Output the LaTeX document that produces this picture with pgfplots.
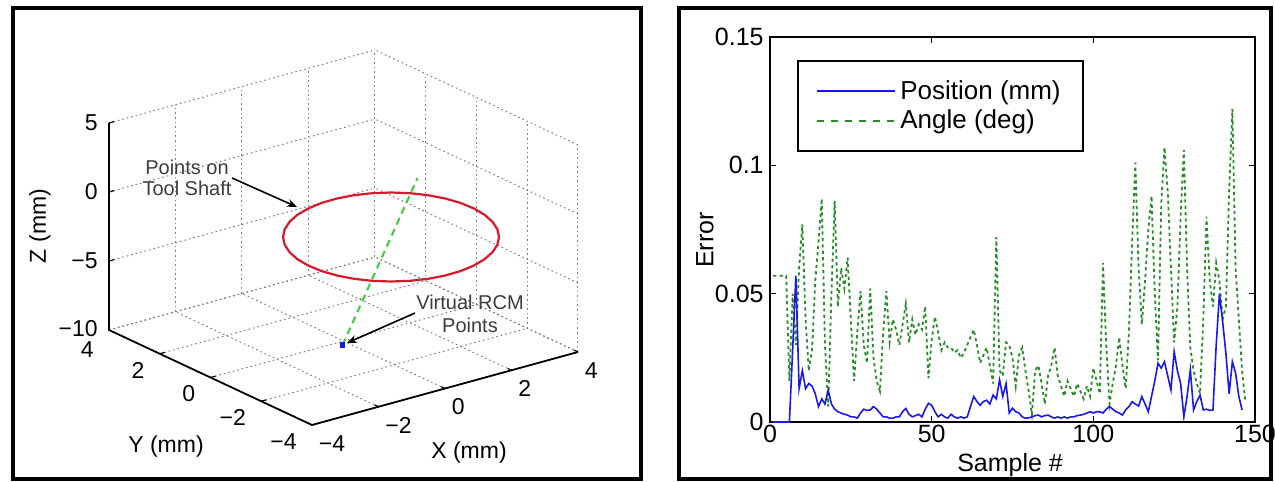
\documentclass[border=0pt]{standalone}
\usepackage{fontspec}
\setmainfont{Liberation Sans}
\usepackage{pgfplots}
\pgfplotsset{compat=1.18}
\usetikzlibrary{arrows.meta}

\definecolor{cred}{RGB}{215,25,45}
\definecolor{cshaft}{RGB}{60,205,60}
\definecolor{cpos}{RGB}{25,25,235}
\definecolor{cang}{RGB}{40,140,40}
\definecolor{cgrid}{RGB}{125,125,125}
\definecolor{cnote}{RGB}{60,60,60}

\begin{document}
\begin{tikzpicture}
% ---- left panel: 3D view (1px = 0.5pt)
\begin{axis}[
  at={(171.75pt,-101.5pt)}, anchor=origin,
  x={(16.625pt,4.5625pt)}, y={(-12.6875pt,5.9375pt)}, z={(0pt,6.9pt)},
  xmin=-4, xmax=4, ymin=-4, ymax=4, zmin=-10, zmax=5,
  xtick={-4,-2,...,4}, ytick={-4,-2,...,4}, ztick={-10,-5,0,5},
  xticklabels={}, yticklabels={}, zticklabels={},
  tick label style={opacity=0},
  grid=major,
  grid style={cgrid, line width=0.5pt, dash pattern=on 0.8pt off 1.5pt},
  axis line style={draw=none}, major tick style={draw=none},
  clip=false,
  font=\fontsize{11.5}{13}\selectfont,
]
  \addplot3[cred, line width=1.1pt, no markers] coordinates {
    (3.477,-1.573,-3.41) (3.759,-1.139,-3.41) (3.971,-0.670,-3.41)
    (4.105,-0.181,-3.41) (4.157,0.313,-3.41) (4.127,0.798,-3.41)
    (4.015,1.259,-3.41) (3.824,1.682,-3.41) (3.561,2.053,-3.41)
    (3.233,2.362,-3.41) (2.851,2.599,-3.41) (2.424,2.758,-3.41)
    (1.967,2.833,-3.41) (1.495,2.820,-3.41) (1.021,2.723,-3.41)
    (0.559,2.543,-3.41) (0.123,2.286,-3.41) (-0.273,1.959,-3.41)
    (-0.617,1.573,-3.41) (-0.899,1.139,-3.41) (-1.111,0.670,-3.41)
    (-1.245,0.181,-3.41) (-1.297,-0.313,-3.41) (-1.267,-0.798,-3.41)
    (-1.155,-1.259,-3.41) (-0.964,-1.682,-3.41) (-0.701,-2.053,-3.41)
    (-0.373,-2.362,-3.41) (0.009,-2.599,-3.41) (0.436,-2.758,-3.41)
    (0.893,-2.833,-3.41) (1.365,-2.820,-3.41) (1.839,-2.723,-3.41)
    (2.301,-2.543,-3.41) (2.737,-2.286,-3.41) (3.133,-1.959,-3.41)
    (3.477,-1.573,-3.41)
  };
  \addplot3[cshaft, line width=1pt, dash pattern=on 3.5pt off 2.5pt, no markers]
    coordinates {(-0.18,-0.2,-10) (2.31,0.11,0.19)};
  \addplot3[cpos, only marks, mark=square*, mark size=1.1pt]
    coordinates {(-0.18,-0.2,-10)};
  % axis lines and ticks
  \draw[line width=0.9pt] (-4,4,5) -- (-4,4,-10) -- (-4,-4,-10) -- (4,-4,-10);
  \draw[line width=0.6pt] (-4,4,5) -- (-3.85,4,5);
  \draw[line width=0.6pt] (-4,4,0) -- (-3.85,4,0);
  \draw[line width=0.6pt] (-4,4,-5) -- (-3.85,4,-5);
  \draw[line width=0.6pt] (-4,2,-10) -- (-3.85,2,-10);
  \draw[line width=0.6pt] (-4,0,-10) -- (-3.85,0,-10);
  \draw[line width=0.6pt] (-4,-2,-10) -- (-3.85,-2,-10);
  \draw[line width=0.6pt] (-2,-4,-10) -- (-2,-3.85,-10);
  \draw[line width=0.6pt] (0,-4,-10) -- (0,-3.85,-10);
  \draw[line width=0.6pt] (2,-4,-10) -- (2,-3.85,-10);
  \draw[line width=0.6pt] (4,-4,-10) -- (4,-3.85,-10);
  % tick labels
  \node[anchor=east, inner sep=0pt, xshift=-5.5pt] at (-4,4,5) {5};
  \node[anchor=east, inner sep=0pt, xshift=-5.5pt] at (-4,4,0) {0};
  \node[anchor=east, inner sep=0pt, xshift=-5.5pt] at (-4,4,-5) {−5};
  \node[anchor=east, inner sep=0pt, xshift=-5.5pt, yshift=0.5pt] at (-4,4,-10) {−10};
  \node[anchor=north east, inner sep=0pt, xshift=-7.5pt, yshift=-5.5pt] at (-4,4,-10) {4};
  \node[anchor=north east, inner sep=0pt, xshift=-7.5pt, yshift=-4pt] at (-4,2,-10) {2};
  \node[anchor=north east, inner sep=0pt, xshift=-7.5pt, yshift=-4pt] at (-4,0,-10) {0};
  \node[anchor=north east, inner sep=0pt, xshift=-7.5pt, yshift=-4pt] at (-4,-2,-10) {−2};
  \node[anchor=north east, inner sep=0pt, xshift=-7.5pt, yshift=-4pt] at (-4,-4,-10) {−4};
  \node[anchor=north west, inner sep=0pt, xshift=3.25pt, yshift=-5pt] at (-4,-4,-10) {−4};
  \node[anchor=north west, inner sep=0pt, xshift=3.25pt, yshift=-5pt] at (-2,-4,-10) {−2};
  \node[anchor=north west, inner sep=0pt, xshift=3.25pt, yshift=-5pt] at (0,-4,-10) {0};
  \node[anchor=north west, inner sep=0pt, xshift=3.25pt, yshift=-5pt] at (2,-4,-10) {2};
  \node[anchor=north west, inner sep=0pt, xshift=3.25pt, yshift=-5pt] at (4,-4,-10) {4};
\end{axis}
\node[rotate=90, font=\fontsize{11.5}{13}\selectfont] at (20pt,-113pt) {Z (mm)};
\node[font=\fontsize{11.5}{13}\selectfont] at (83pt,-223.5pt) {Y (mm)};
\node[font=\fontsize{11.5}{13}\selectfont] at (234.5pt,-226.5pt) {X (mm)};
\node[align=center, text=cnote, font=\fontsize{10}{10.5}\selectfont] at (93.5pt,-88.75pt) {Points on\\Tool Shaft};
\draw[line width=0.8pt, -{Stealth[length=5pt, width=4pt]}] (116pt,-89pt) -- (148.5pt,-103.5pt);
\node[align=center, text=cnote, font=\fontsize{10}{11.5}\selectfont] at (235pt,-156.75pt) {Virtual RCM\\Points};
\draw[line width=0.8pt, -{Stealth[length=5pt, width=4pt]}] (207.5pt,-156.5pt) -- (173.5pt,-171.5pt);

% ---- right panel: error per sample
\begin{axis}[
  at={(385pt,-211pt)}, anchor=origin,
  scale only axis, width=242.5pt, height=192.5pt,
  xmin=0, xmax=150, ymin=0, ymax=0.15,
  xtick={0,50,100,150}, xticklabels={0,50,100,150},
  ytick={0,0.05,0.1,0.15}, yticklabels={0,0.05,0.1,0.15},
  scaled ticks=false,
  tick align=inside, major tick length=3pt,
  axis line style={line width=1.1pt}, tick style={line width=0.7pt, black},
  font=\fontsize{12.5}{15}\selectfont,
  every tick label/.append style={inner sep=1.5pt},
  yticklabel style={xshift=-1.5pt},
  xlabel={Sample \#}, ylabel={Error},
  xlabel style={at={(axis description cs:0.495,-0.112)}, anchor=center},
  ylabel style={at={(axis description cs:-0.134,0.473)}, anchor=center},
  legend style={at={(0.0557,0.940)}, anchor=north west, draw=black,
    line width=1.1pt, inner xsep=9pt, inner ysep=7.5pt, row sep=0pt,
    nodes={inner sep=2pt}, cells={anchor=west},
    font=\fontsize{13}{15}\selectfont,
    /tikz/every even column/.append style={column sep=10.5pt}},
  legend image code/.code={\draw[#1] (0pt,0pt) -- (39pt,0pt);},
]
  \addlegendimage{cpos, line width=1.1pt}
  \addlegendentry{Position (mm)}
  \addlegendimage{cang, line width=1.1pt, dash pattern=on 3.5pt off 3.5pt}
  \addlegendentry{Angle (deg)}
  \addplot[cang, line width=0.9pt, dash pattern=on 1.6pt off 1.6pt, forget plot] coordinates {
    (1,0.057)(2,0.057)(3,0.057)(4,0.057)(5,0.057)(6,0.016)(7,0.05)(8,0.03)
    (9,0.06)(10,0.077)(11,0.04)(12,0.02)(13,0.028)(14,0.055)(15,0.07)(16,0.087)
    (17,0.03)(18,0.006)(19,0.05)(20,0.086)(21,0.045)(22,0.06)(23,0.052)(24,0.064)
    (25,0.04)(26,0.016)(27,0.035)(28,0.051)(29,0.03)(30,0.023)(31,0.052)(32,0.025)
    (33,0.016)(34,0.012)(35,0.035)(36,0.051)(37,0.031)(38,0.04)(39,0.036)(40,0.03)
    (41,0.038)(42,0.046)(43,0.031)(44,0.04)(45,0.034)(46,0.038)(47,0.036)(48,0.045)
    (49,0.017)(50,0.032)(51,0.041)(52,0.035)(53,0.028)(54,0.031)(55,0.029)(56,0.029)
    (57,0.027)(58,0.028)(59,0.025)(60,0.027)(61,0.03)(62,0.033)(63,0.036)(64,0.03)
    (65,0.023)(66,0.026)(67,0.029)(68,0.022)(69,0.015)(70,0.072)(71,0.02)(72,0.018)
    (73,0.031)(74,0.03)(75,0.025)(76,0.014)(77,0.026)(78,0.029)(79,0.02)(80,0.012)
    (81,0.003)(82,0.02)(83,0.022)(84,0.015)(85,0.007)(86,0.018)(87,0.022)(88,0.029)
    (89,0.018)(90,0.014)(91,0.01)(92,0.016)(93,0.013)(94,0.01)(95,0.015)(96,0.012)
    (97,0.009)(98,0.014)(99,0.01)(100,0.021)(101,0.016)(102,0.011)(103,0.062)(104,0.03)
    (105,0.007)(106,0.015)(107,0.022)(108,0.033)(109,0.022)(110,0.013)(111,0.035)(112,0.07)
    (113,0.101)(114,0.06)(115,0.038)(116,0.055)(117,0.075)(118,0.088)(119,0.05)(120,0.024)
    (121,0.085)(122,0.107)(123,0.09)(124,0.06)(125,0.031)(126,0.045)(127,0.08)(128,0.106)
    (129,0.06)(130,0.029)(131,0.02)(132,0.015)(133,0.011)(134,0.04)(135,0.08)(136,0.055)
    (137,0.045)(138,0.062)(139,0.055)(140,0.04)(141,0.045)(142,0.09)(143,0.122)(144,0.06)
    (145,0.04)(146,0.02)(147,0.008)
  };
  \addplot[cpos, line width=0.8pt, forget plot] coordinates {
    (1,0)(2,0)(3,0)(4,0)(5,0)(6,0)(7,0.028)(8,0.057)(9,0.013)(10,0.02)
    (11,0.013)(12,0.015)(13,0.014)(14,0.011)(15,0.006)(16,0.009)(17,0.007)(18,0.0125)
    (19,0.007)(20,0.005)(21,0.004)(22,0.0035)(23,0.003)(24,0.0027)(25,0.002)(26,0.002)
    (27,0.0015)(28,0.0035)(29,0.005)(30,0.0045)(31,0.0047)(32,0.006)(33,0.005)(34,0.0035)
    (35,0.002)(36,0.002)(37,0.0015)(38,0.0015)(39,0.002)(40,0.002)(41,0.004)(42,0.0053)
    (43,0.003)(44,0.002)(45,0.0025)(46,0.003)(47,0.002)(48,0.005)(49,0.0073)(50,0.0065)
    (51,0.004)(52,0.002)(53,0.003)(54,0.002)(55,0.0015)(56,0.003)(57,0.002)(58,0.0015)
    (59,0.002)(60,0.0015)(61,0.002)(62,0.006)(63,0.0099)(64,0.008)(65,0.0065)(66,0.008)
    (67,0.0085)(68,0.007)(69,0.0105)(70,0.009)(71,0.0164)(72,0.01)(73,0.015)(74,0.0035)
    (75,0.0054)(76,0.004)(77,0.0035)(78,0.002)(79,0.0015)(80,0.0016)(81,0.002)(82,0.0025)
    (83,0.0027)(84,0.002)(85,0.0025)(86,0.0027)(87,0.002)(88,0.0015)(89,0.002)(90,0.0015)
    (91,0.002)(92,0.0015)(93,0.002)(94,0.002)(95,0.0025)(96,0.0027)(97,0.003)(98,0.0035)
    (99,0.004)(100,0.0035)(101,0.004)(102,0.004)(103,0.0035)(104,0.005)(105,0.006)(106,0.005)
    (107,0.004)(108,0.0035)(109,0.0027)(110,0.0047)(111,0.006)(112,0.0079)(113,0.007)(114,0.0062)
    (115,0.0099)(116,0.007)(117,0.004)(118,0.01)(119,0.016)(120,0.0229)(121,0.021)(122,0.0235)
    (123,0.018)(124,0.0125)(125,0.0274)(126,0.02)(127,0.015)(128,0.002)(129,0.01)(130,0.0203)
    (131,0.0047)(132,0.008)(133,0.0105)(134,0.0047)(135,0.005)(136,0.0045)(137,0.0047)(138,0.03)
    (139,0.05)(140,0.039)(141,0.0268)(142,0.011)(143,0.0235)(144,0.019)(145,0.01)(146,0.0047)
  };
\end{axis}

% panel frames
\draw[line width=1.6pt] (6.5pt,-4pt) rectangle (320.5pt,-239.5pt);
\draw[line width=1.6pt] (339.5pt,-4pt) rectangle (635.5pt,-239.5pt);
\pgfresetboundingbox
\useasboundingbox (0pt,0pt) rectangle (637.5pt,-241pt);
\end{tikzpicture}
\end{document}
